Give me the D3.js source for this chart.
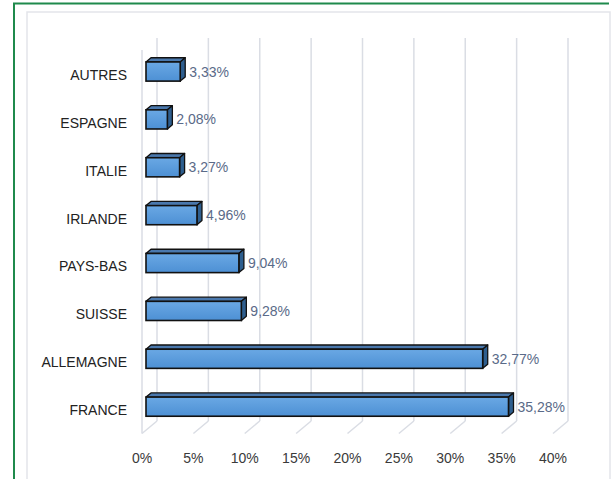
<!DOCTYPE html>
<html>
<head>
<meta charset="utf-8">
<script src="https://cdn.jsdelivr.net/npm/d3@7"></script>
<style>
html,body{margin:0;padding:0;background:#fff;}
svg{display:block;}
text{font-family:"Liberation Sans", Arial, sans-serif;}
</style>
</head>
<body>
<svg id="chart" width="614" height="479"></svg>
<script>
const categories = ["AUTRES","ESPAGNE","ITALIE","IRLANDE","PAYS-BAS","SUISSE","ALLEMAGNE","FRANCE"];
const values = [3.33, 2.08, 3.27, 4.96, 9.04, 9.28, 32.77, 35.28];
const ticks = [0,5,10,15,20,25,30,35,40];

const svg = d3.select("#chart");

// frames
svg.append("rect").attr("x",27).attr("y",12).attr("width",583).attr("height",480)
  .attr("fill","#fff").attr("stroke","#e3e5ea").attr("stroke-width",1.5);
svg.append("path").attr("d","M14,480 L14,3.5 L609,3.5")
  .attr("fill","none").attr("stroke","#1f8a4c").attr("stroke-width",2);

// 3D geometry
const depth = {dx:15, dy:-12.5};
const barFront = {dx:4, dy:-3.4};
const barDepth = {dx:5, dy:-4.2};

const x = d3.scaleLinear().domain([0,40]).range([142,553]);
const y = d3.scaleBand().domain(categories).range([51,434]).paddingInner(0.6).paddingOuter(0.3);
const floorY = 433.5;
const backTop = 38;

const grid = svg.append("g");
grid.selectAll("line.back").data(ticks).join("line")
  .attr("x1",d=>x(d)+depth.dx).attr("x2",d=>x(d)+depth.dx)
  .attr("y1",backTop).attr("y2",floorY+depth.dy)
  .attr("stroke","#dadde4").attr("stroke-width",1.5);
grid.selectAll("line.floor").data(ticks).join("line")
  .attr("x1",d=>x(d)).attr("x2",d=>x(d)+depth.dx)
  .attr("y1",floorY).attr("y2",floorY+depth.dy)
  .attr("stroke","#dadde4").attr("stroke-width",1.5);
grid.append("line").attr("x1",x(0)).attr("x2",x(0)).attr("y1",50).attr("y2",floorY)
  .attr("stroke","#dadde4").attr("stroke-width",1.5);

const defs = svg.append("defs");
const g1 = defs.append("linearGradient").attr("id","front").attr("x1",0).attr("y1",0).attr("x2",0).attr("y2",1);
g1.append("stop").attr("offset","0%").attr("stop-color","#6aa8e4");
g1.append("stop").attr("offset","100%").attr("stop-color","#4d90d4");

const data = categories.map((c,i)=>({c, v:values[i]}));
const bars = svg.append("g").selectAll("g").data(data).join("g");

bars.each(function(d){
  const g = d3.select(this);
  const x0 = x(0)+barFront.dx, x1 = x(d.v)+barFront.dx;
  const y0 = y(d.c)+barFront.dy, y1 = y0 + y.bandwidth();
  const bx = barDepth.dx, by = barDepth.dy;
  g.append("path").attr("d",`M${x0},${y0}L${x1},${y0}L${x1+bx},${y0+by}L${x0+bx},${y0+by}Z`)
    .attr("fill","#4a78ad").attr("stroke","#111").attr("stroke-width",1.3).attr("stroke-linejoin","round");
  g.append("path").attr("d",`M${x1},${y0}L${x1+bx},${y0+by}L${x1+bx},${y1+by}L${x1},${y1}Z`)
    .attr("fill","#2e5e8e").attr("stroke","#111").attr("stroke-width",1.3).attr("stroke-linejoin","round");
  g.append("rect").attr("x",x0).attr("y",y0).attr("width",x1-x0).attr("height",y1-y0)
    .attr("fill","url(#front)").attr("stroke","#111").attr("stroke-width",1.6);
});

const fmt = d3.formatLocale({decimal:",", thousands:" ", grouping:[3], currency:["","%"]}).format(".2f");

svg.append("g").selectAll("text").data(data).join("text")
  .attr("x",d=>x(d.v)+barFront.dx+barDepth.dx+4)
  .attr("y",d=>y(d.c)+barFront.dy+y.bandwidth()/2+5)
  .attr("font-size",14).attr("fill","#5a6a88")
  .text(d=>fmt(d.v)+"%");

svg.append("g").selectAll("text").data(categories).join("text")
  .attr("x",127).attr("y",d=>y(d)+y.bandwidth()/2+5)
  .attr("text-anchor","end").attr("font-size",14).attr("fill","#222")
  .text(d=>d);

svg.append("g").selectAll("text").data(ticks).join("text")
  .attr("x",d=>x(d)).attr("y",463)
  .attr("text-anchor","middle").attr("font-size",14).attr("fill","#3a3a3a")
  .text(d=>d+"%");
</script>
</body>
</html>
